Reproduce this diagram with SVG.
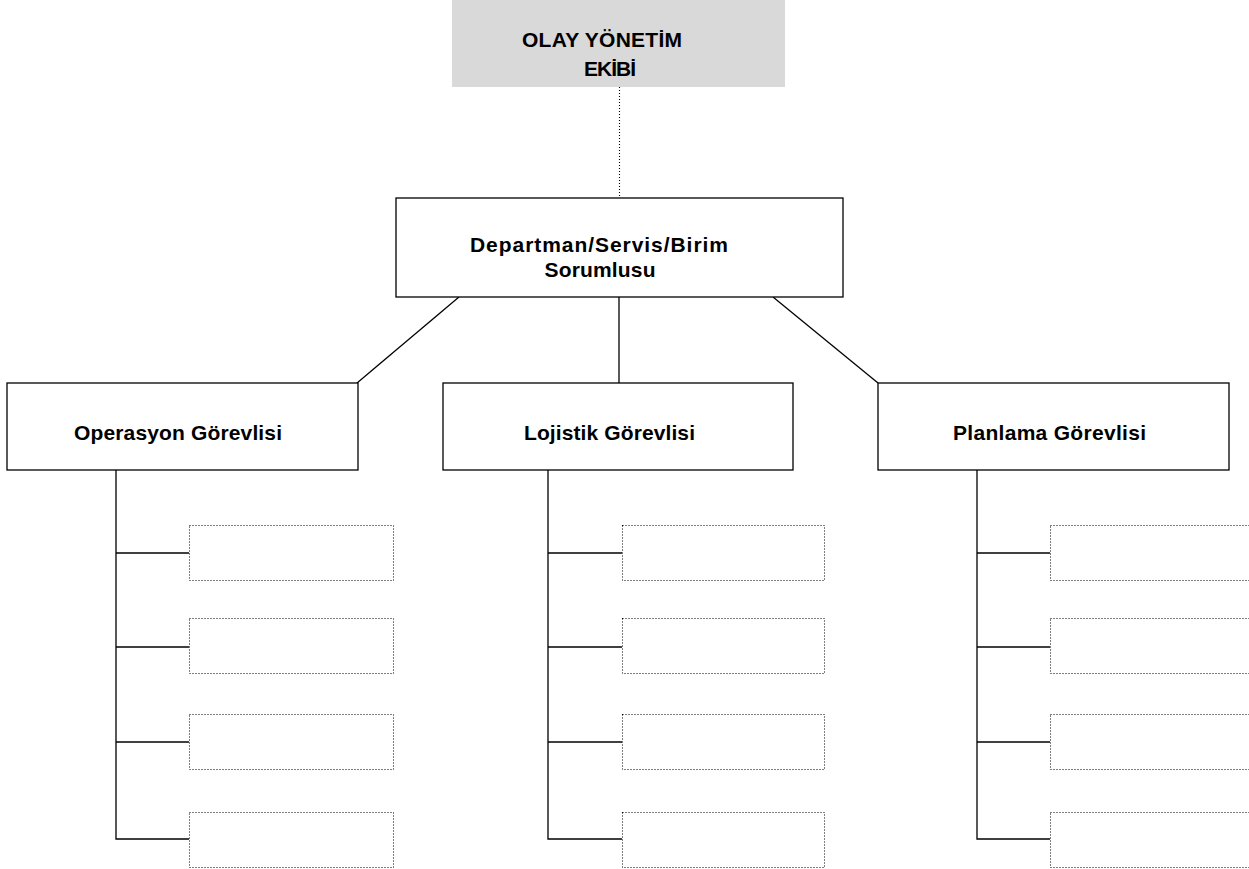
<svg xmlns="http://www.w3.org/2000/svg" width="1249" height="869" viewBox="0 0 1249 869">
  <style>
    .label { font-family: "Liberation Sans", Arial, sans-serif; font-weight: bold; font-size: 21px; fill: #000; text-anchor: middle; }
    .box { fill: #fff; stroke: #000; stroke-width: 1.3; }
    .slot { fill: #fff; stroke: #000; stroke-width: 1.1; stroke-dasharray: 1 2; }
    .link { fill: none; stroke: #000; stroke-width: 1.3; }
    .dotted { fill: none; stroke: #000; stroke-width: 1.1; stroke-dasharray: 1 2; }
  </style>

  <!-- connectors -->
  <g id="connectors">
    <line class="dotted" x1="619.5" y1="87" x2="619.5" y2="198"/>
    <line class="link" x1="459" y1="297" x2="357" y2="383"/>
    <line class="link" x1="619" y1="297" x2="619" y2="383"/>
    <line class="link" x1="773" y1="297" x2="878" y2="383"/>

    <!-- Operasyon branch -->
    <polyline class="link" points="116,470 116,839 189,839"/>
    <line class="link" x1="116" y1="553" x2="189" y2="553"/>
    <line class="link" x1="116" y1="647" x2="189" y2="647"/>
    <line class="link" x1="116" y1="742" x2="189" y2="742"/>

    <!-- Lojistik branch -->
    <polyline class="link" points="548,470 548,839 622,839"/>
    <line class="link" x1="548" y1="553" x2="622" y2="553"/>
    <line class="link" x1="548" y1="647" x2="622" y2="647"/>
    <line class="link" x1="548" y1="742" x2="622" y2="742"/>

    <!-- Planlama branch -->
    <polyline class="link" points="977,470 977,839 1050,839"/>
    <line class="link" x1="977" y1="553" x2="1050" y2="553"/>
    <line class="link" x1="977" y1="647" x2="1050" y2="647"/>
    <line class="link" x1="977" y1="742" x2="1050" y2="742"/>
  </g>

  <!-- incident management team -->
  <g id="olay-yonetim-ekibi">
    <rect x="452" y="0" width="333" height="87" fill="#d9d9d9"/>
    <text class="label" x="602" y="47" textLength="160">OLAY YÖNETİM</text>
    <text class="label" x="610" y="76" textLength="52">EKİBİ</text>
  </g>

  <!-- unit lead -->
  <g id="birim-sorumlusu">
    <rect class="box" x="396" y="198" width="447" height="99"/>
    <text class="label" x="599" y="252" textLength="258">Departman/Servis/Birim</text>
    <text class="label" x="600" y="277" textLength="111">Sorumlusu</text>
  </g>

  <g id="operasyon-gorevlisi">
    <rect class="box" x="7" y="383" width="351" height="87"/>
    <text class="label" x="178" y="440" textLength="208">Operasyon Görevlisi</text>
  </g>

  <g id="lojistik-gorevlisi">
    <rect class="box" x="443" y="383" width="350" height="87"/>
    <text class="label" x="609.5" y="440" textLength="171">Lojistik Görevlisi</text>
  </g>

  <g id="planlama-gorevlisi">
    <rect class="box" x="878" y="383" width="351" height="87"/>
    <text class="label" x="1049.5" y="440" textLength="193">Planlama Görevlisi</text>
  </g>

  <!-- empty staff slots -->
  <g id="operasyon-slots">
    <rect class="slot" x="189.5" y="525.5" width="204" height="55"/>
    <rect class="slot" x="189.5" y="618.5" width="204" height="55"/>
    <rect class="slot" x="189.5" y="714.5" width="204" height="55"/>
    <rect class="slot" x="189.5" y="812.5" width="204" height="55"/>
  </g>
  <g id="lojistik-slots">
    <rect class="slot" x="622.5" y="525.5" width="202" height="55"/>
    <rect class="slot" x="622.5" y="618.5" width="202" height="55"/>
    <rect class="slot" x="622.5" y="714.5" width="202" height="55"/>
    <rect class="slot" x="622.5" y="812.5" width="202" height="55"/>
  </g>
  <g id="planlama-slots">
    <rect class="slot" x="1050.5" y="525.5" width="210" height="55"/>
    <rect class="slot" x="1050.5" y="618.5" width="210" height="55"/>
    <rect class="slot" x="1050.5" y="714.5" width="210" height="55"/>
    <rect class="slot" x="1050.5" y="812.5" width="210" height="55"/>
  </g>
</svg>
